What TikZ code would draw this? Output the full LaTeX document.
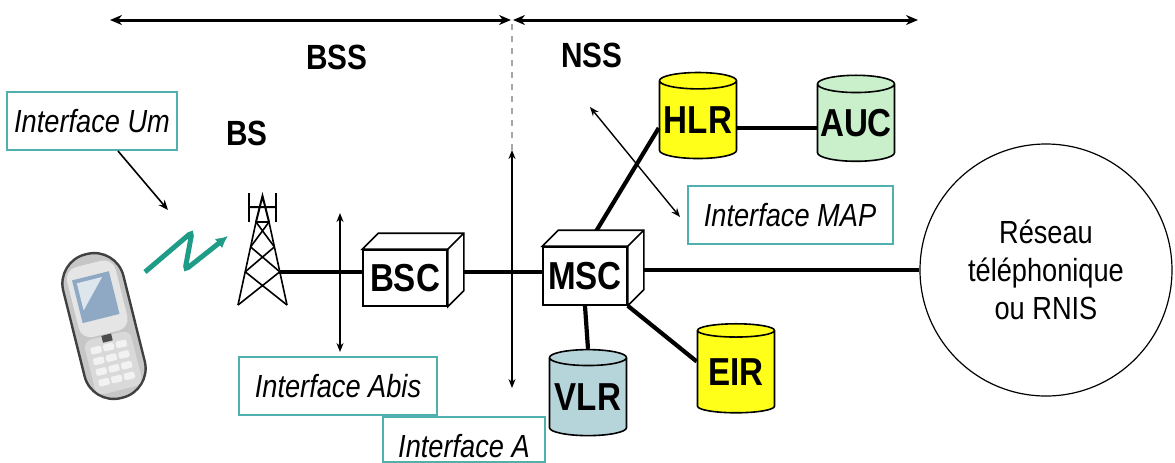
\documentclass[tikz,border=0pt]{standalone}
\usepackage{fontspec}
\setmainfont{Liberation Sans}[FakeStretch=0.85]
\usetikzlibrary{arrows.meta,shapes.geometric,calc}

\definecolor{boxline}{HTML}{4FB0AE}
\definecolor{wave}{HTML}{1E9C88}
\definecolor{dbyellow}{HTML}{FFFF1A}
\definecolor{dbgreen}{HTML}{C9F0CB}
\definecolor{dbblue}{HTML}{B5D5DA}
\definecolor{screen}{HTML}{8FA9C4}

% top and side faces of a box unit
\newcommand{\boxfaces}[1]{%
  \draw[line width=0.8pt, fill=white] (#1.north west) -- ++(16,-16)
    -- ([shift={(16,-16)}]#1.north east) -- ([shift={(16,-16)}]#1.south east)
    -- (#1.south east) -- (#1.north east) -- cycle;
  \draw[line width=0.8pt] (#1.north east) -- ++(16,-16);}

\begin{document}
\begin{tikzpicture}[x=0.5pt, y=-0.5pt,
    title/.style={font=\fontsize{17.5}{20}\selectfont\bfseries},
    iface/.style={draw=boxline, line width=1pt, fill=white, minimum height=29pt,
      font=\fontsize{16}{19}\selectfont\itshape},
    unit/.style={draw, line width=0.8pt, fill=white, minimum width=42pt, minimum height=28pt,
      inner sep=1pt, font=\fontsize{19.5}{22}\selectfont\bfseries},
    db/.style={cylinder, shape border rotate=90, aspect=0.24, draw, line width=0.8pt,
      minimum width=38.5pt, minimum height=43pt, inner sep=0pt,
      font=\fontsize{19.5}{22}\selectfont\bfseries},
    link/.style={line width=2.1pt},
    iarrow/.style={{Stealth[length=4.5pt,width=3.5pt]}-{Stealth[length=4.5pt,width=3.5pt]}, line width=0.7pt},
    span/.style={{Stealth[length=6pt,width=5pt]}-{Stealth[length=6pt,width=5pt]}, line width=1.5pt}]
  \useasboundingbox (0,0) rectangle (1175,462);

  % BSS / NSS extents
  \coordinate (bssl) at (110,20);
  \coordinate (bssr) at (511,20);
  \coordinate (nssl) at (513,20);
  \coordinate (nssr) at (918,20);
  \draw[span] (bssl) -- (bssr);
  \draw[span] (nssl) -- (nssr);
  \node[title] (bss) at (337,57) {BSS};
  \node[title] (nss) at (592,55) {NSS};
  \draw[gray!70, dashed, line width=0.8pt] (512,24) -- (512,150);

  % mobile station
  \begin{scope}[shift={(104,326)}, rotate=14]
    \draw[draw=gray!50!black, fill=gray!45, line width=1.2pt, rounded corners=15pt] (-31,-74) rectangle (31,74);
    \fill[gray!20, rounded corners=6pt] (-25,-64) rectangle (25,8);
    \fill[screen] (-20,-52) rectangle (18,-8);
    \fill[white!70!screen] (-16,-48) -- (10,-48) -- (-16,-20) -- cycle;
    \fill[gray!30, rounded corners=4pt] (-24,10) rectangle (24,66);
    \foreach \i in {0,1,2}
      \foreach \j in {0,...,3}
        \fill[gray!10, rounded corners=1pt] (-19+\i*13,18+\j*11) rectangle ++(11,7);
    \fill[gray!60!black] (-5,9) rectangle (5,16);
  \end{scope}
  \draw[wave, line width=2.5pt, rounded corners=2pt, -{Latex[length=6pt,width=6pt]}]
    (145,272) -- (192,232) -- (185,270) -- (228,236);

  % base station
  \coordinate (tl) at (256,222);
  \coordinate (tr) at (269,222);
  \coordinate (bl) at (238,305);
  \coordinate (br) at (287,305);
  \draw[line width=0.8pt] (tl) -- (bl) (tr) -- (br) (tl) -- (tr);
  \foreach \a/\b in {0/0.3, 0.3/0.6, 0.6/1}
    \draw[line width=0.8pt] ($(tl)!\a!(bl)$) -- ($(tr)!\b!(br)$) ($(tr)!\a!(br)$) -- ($(tl)!\b!(bl)$);
  \draw[line width=1.4pt] (249,193) -- (249,222) (276,193) -- (276,222);
  \draw[line width=1pt] (249,207) -- (276,207) (256,222) -- (262.5,196) -- (269,222);
  \coordinate (bts) at (279,272);
  \node[title] (bs) at (247,133) {BS};

  % interface labels
  \node[iface, minimum width=80pt] (um) at (92,121) {Interface Um};
  \coordinate (umend) at (168,210);
  \draw[line width=0.8pt, -{Stealth[length=5pt,width=4pt]}] ([xshift=13pt]um.south) -- (umend);
  \node[iface, minimum width=99pt] (abis) at (338,386) {Interface Abis};
  \node[iface, minimum width=81pt, minimum height=22.5pt, text height=18pt, text depth=0pt,
    inner ysep=1pt, anchor=north] (ifa) at (464,416) {Interface A};
  \node[iface, minimum width=102.5pt] (map) at (790,215) {Interface MAP};

  % units
  \node[unit] (bsc) at (405,278) {BSC};
  \node[unit, minimum height=29pt] (msc) at (585,276) {MSC};
  \node[db, fill=dbyellow] (hlr) at (698,120) {HLR};
  \node[db, fill=dbgreen] (auc) at (856,123) {AUC};
  \node[db, fill=dbblue] (vlr) at (588,397) {VLR};
  \node[db, fill=dbyellow, minimum height=44.5pt] (eir) at (736,372) {EIR};
  \node[circle, draw, line width=0.6pt, minimum size=126pt, align=center,
    font=\fontsize{16}{19}\selectfont] (rnis) at (1046,270) {Réseau\\téléphonique\\ou RNIS};

  % links
  \draw[link] (bts) -- (bts -| bsc.west);
  \draw[link] (bsc.east |- bts) -- (msc.west |- bts);
  \draw[link] (msc.east |- rnis.west) -- (rnis.west);
  \draw[link] ([xshift=1pt]msc.north) -- ([yshift=-4pt]hlr.west);
  \draw[link] ([yshift=-4pt]hlr.east) -- ([yshift=-4pt]hlr.east -| auc.west);
  \draw[link] (msc.south) -- (vlr.north);
  \draw[link] (msc.south east) -- (eir.165);
  \boxfaces{bsc}
  \boxfaces{msc}

  % interface arrows
  \coordinate (abist) at (340,213);
  \coordinate (abisb) at (340,352);
  \draw[iarrow] (abist) -- (abisb);
  \coordinate (at) at (512,150);
  \coordinate (ab) at (512,388);
  \draw[iarrow] (at) -- (ab);
  \coordinate (mapt) at (590,107);
  \coordinate (mapb) at (680,217);
  \draw[iarrow] (mapt) -- (mapb);
\end{tikzpicture}
\end{document}
